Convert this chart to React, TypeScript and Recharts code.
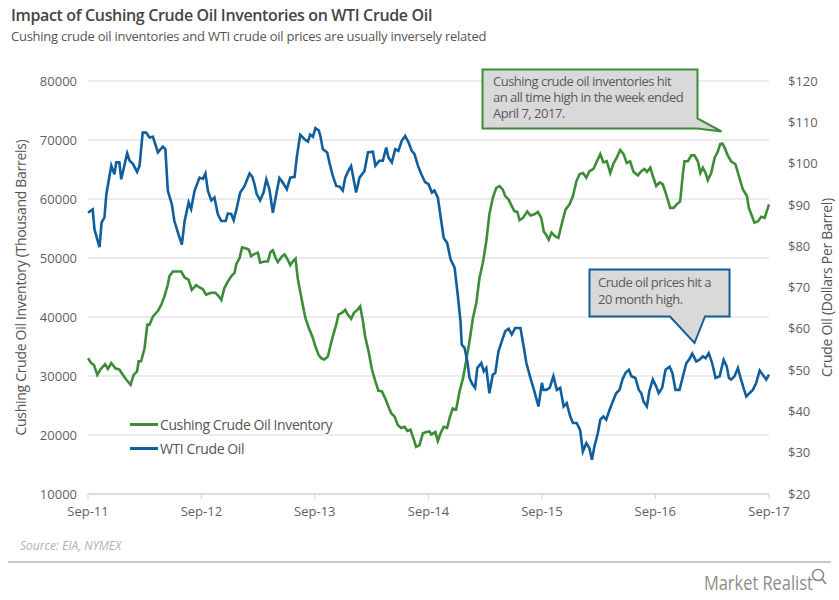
import { LineChart, Line, XAxis, YAxis, CartesianGrid } from 'recharts';

const GREEN = '#3d8c38';
const BLUE = '#105f9c';
const FONT = '"Open Sans", "Noto Sans", sans-serif';

// x positions are days since Sep-11
const xTicks = [0, 365, 730, 1096, 1461, 1826, 2192];
const xTickLabels = ['Sep-11', 'Sep-12', 'Sep-13', 'Sep-14', 'Sep-15', 'Sep-16', 'Sep-17'];
const leftTicks = [10000, 20000, 30000, 40000, 50000, 60000, 70000, 80000];
const rightTicks = [20, 30, 40, 50, 60, 70, 80, 90, 100, 110, 120];

// Cushing crude oil inventory (thousand barrels)
const invDays = [
  0, 10, 19, 30, 40, 55, 64, 75, 88, 101, 112, 123, 137, 147, 158, 163, 171, 182, 191, 198,
  209, 225, 236, 246, 257, 262, 273, 284, 300, 311, 324, 334, 348, 359, 370, 380, 397, 410, 421, 429,
  439, 450, 461, 472, 477, 488, 496, 509, 518, 525, 536, 547, 554, 568, 579, 587, 595, 604, 611, 625,
  633, 643, 651, 659, 668, 675, 683, 691, 700, 711, 722, 732, 743, 751, 761, 772, 781, 788, 799, 806,
  817, 828, 836, 847, 856, 867, 876, 885, 892, 903, 914, 925, 935, 946, 957, 965, 976, 987, 997, 1008,
  1019, 1028, 1038, 1049, 1056, 1067, 1078, 1089, 1099, 1105, 1118, 1126, 1135, 1145, 1156, 1164, 1174, 1185, 1196, 1207,
  1217, 1228, 1239, 1250, 1260, 1271, 1282, 1292, 1303, 1314, 1325, 1335, 1343, 1354, 1364, 1373, 1382, 1389, 1400, 1414,
  1424, 1437, 1448, 1459, 1467, 1474, 1483, 1492, 1503, 1514, 1526, 1537, 1550, 1561, 1572, 1582, 1593, 1604, 1614, 1627,
  1638, 1649, 1659, 1670, 1681, 1692, 1702, 1713, 1724, 1734, 1745, 1756, 1770, 1781, 1791, 1799, 1810, 1818, 1829, 1840,
  1850, 1861, 1874, 1885, 1895, 1906, 1915, 1920, 1931, 1942, 1952, 1963, 1971, 1979, 1988, 1995, 2006, 2017, 2027, 2035,
  2042, 2049, 2060, 2070, 2084, 2095, 2108, 2121, 2127, 2135, 2145, 2156, 2167, 2178, 2192,
];
const invStock = [
  33000, 32200, 31900, 30200, 31100, 32000, 31200, 32200, 31300, 31100, 30200, 29400, 28500, 30200, 30800, 32500, 32500, 34700, 38700, 38700,
  40100, 41000, 42100, 43500, 45500, 46900, 47700, 47700, 47700, 46700, 46300, 44600, 45400, 45000, 44700, 43800, 44100, 44100, 43500, 42900,
  44900, 46000, 46900, 47500, 48900, 50000, 51800, 51600, 51400, 50300, 50700, 50900, 49200, 49400, 49400, 51000, 51300, 50000, 49300, 50300,
  50600, 49700, 48800, 49400, 49900, 46600, 44300, 42100, 39800, 38100, 36700, 35000, 33500, 33000, 32800, 33300, 35300, 36700, 38700, 40400,
  40700, 41200, 40400, 39700, 40700, 41200, 41800, 39300, 36700, 34200, 31100, 29100, 27500, 27400, 26200, 25100, 23700, 23100, 21700, 21200,
  21400, 20700, 20900, 19200, 18000, 18300, 20300, 20500, 20600, 20100, 20500, 19000, 20300, 21400, 21200, 22900, 24500, 24300, 27400, 29600,
  32500, 35900, 39800, 42400, 46600, 49200, 52800, 57400, 60200, 61900, 62200, 61600, 60500, 59900, 58800, 57900, 57800, 56400, 56800, 57900,
  57200, 57400, 57800, 56800, 54500, 54000, 53100, 54300, 53700, 53400, 56000, 58200, 59100, 60500, 63000, 64200, 64400, 63600, 64700, 65100,
  66400, 67600, 66200, 66400, 64400, 66100, 67000, 68300, 67600, 66100, 66400, 64600, 64000, 64700, 65100, 64600, 65300, 63900, 62200, 62800,
  62500, 60800, 58500, 58500, 59100, 59600, 64400, 66400, 66400, 67400, 67400, 66400, 64400, 65300, 64400, 63200, 64400, 67000, 68000, 69300,
  69400, 68700, 67300, 66400, 65900, 63900, 61600, 60500, 58500, 57400, 56000, 56200, 57000, 56800, 59100,
];

// WTI crude oil price ($ per barrel)
const wtiDays = [
  0, 15, 21, 37, 44, 53, 59, 75, 85, 91, 101, 107, 126, 134, 144, 158, 166, 176, 187, 198,
  209, 225, 241, 249, 257, 270, 278, 291, 302, 311, 324, 332, 343, 359, 370, 378, 386, 397, 407, 418,
  429, 443, 450, 461, 469, 479, 490, 504, 520, 529, 536, 543, 554, 565, 574, 584, 595, 606, 616, 627,
  640, 651, 665, 672, 683, 697, 708, 715, 724, 732, 743, 748, 756, 770, 777, 788, 799, 810, 820, 828,
  839, 847, 856, 863, 874, 890, 901, 917, 925, 938, 949, 960, 967, 978, 989, 999, 1010, 1021, 1032, 1042,
  1051, 1062, 1073, 1085, 1096, 1107, 1115, 1126, 1137, 1145, 1156, 1167, 1180, 1190, 1199, 1203, 1212, 1221, 1228, 1237,
  1246, 1253, 1266, 1274, 1282, 1292, 1303, 1311, 1321, 1332, 1343, 1354, 1364, 1375, 1392, 1403, 1411, 1424, 1437, 1450,
  1461, 1466, 1475, 1486, 1498, 1509, 1520, 1531, 1541, 1552, 1561, 1573, 1584, 1593, 1604, 1614, 1622, 1630, 1641, 1649,
  1659, 1668, 1679, 1687, 1700, 1711, 1720, 1730, 1741, 1749, 1762, 1773, 1781, 1788, 1799, 1807, 1818, 1829, 1837, 1848,
  1859, 1872, 1881, 1891, 1904, 1915, 1926, 1936, 1945, 1958, 1968, 1979, 1988, 1998, 2009, 2020, 2033, 2046, 2056, 2063,
  2070, 2081, 2092, 2099, 2110, 2119, 2129, 2140, 2151, 2162, 2172, 2183, 2192,
];
const wtiPrice = [
  88.1, 88.9, 84.0, 79.8, 85.8, 87.0, 92.6, 99.5, 97.4, 100.3, 100.3, 96.2, 102.5, 100.7, 100.0, 98.0, 99.5, 107.5, 107.5, 106.3,
  106.5, 102.7, 104.1, 103.5, 93.4, 90.1, 86.1, 82.9, 80.4, 86.1, 90.6, 89.0, 93.4, 96.6, 96.3, 97.6, 93.4, 91.1, 91.8, 87.7,
  86.1, 86.1, 87.9, 87.8, 86.3, 89.3, 93.0, 94.6, 97.6, 96.8, 95.0, 92.6, 91.1, 93.0, 96.2, 93.8, 88.1, 92.6, 96.5, 95.4,
  93.8, 96.6, 96.8, 101.5, 107.0, 105.9, 105.3, 107.0, 106.5, 108.6, 108.0, 106.7, 103.5, 102.7, 100.3, 97.0, 94.6, 94.4, 93.5, 96.6,
  98.4, 99.4, 95.8, 93.0, 96.6, 98.2, 102.7, 102.9, 99.5, 100.7, 100.7, 103.9, 101.5, 100.3, 103.5, 103.1, 105.5, 106.7, 105.1, 103.1,
  102.3, 99.5, 97.4, 95.5, 95.0, 93.0, 93.5, 91.8, 86.1, 82.0, 80.8, 76.8, 74.8, 68.3, 61.8, 56.2, 55.4, 52.1, 48.1, 46.6,
  45.7, 50.5, 51.7, 49.7, 50.5, 44.4, 48.9, 49.3, 54.5, 57.0, 59.4, 60.0, 58.6, 60.2, 60.2, 55.4, 51.7, 48.1, 44.8, 41.2,
  46.9, 45.2, 45.2, 45.7, 48.5, 45.2, 45.7, 41.2, 42.0, 38.8, 37.2, 37.2, 35.5, 30.3, 32.3, 31.1, 28.3, 31.5, 34.7, 38.0,
  38.8, 38.0, 40.4, 42.0, 44.4, 45.2, 47.7, 49.3, 50.1, 48.5, 48.1, 45.2, 44.4, 42.4, 41.2, 45.0, 47.7, 46.0, 44.4, 45.7,
  50.1, 50.8, 49.3, 45.2, 45.2, 48.5, 51.7, 52.7, 54.0, 52.1, 52.5, 53.3, 52.9, 54.1, 51.7, 48.1, 48.5, 52.5, 50.9, 48.1,
  47.7, 48.5, 50.5, 48.5, 45.7, 43.6, 44.4, 45.2, 46.9, 49.9, 48.9, 47.7, 48.9,
];

const invData = invDays.map((d, i) => ({ d, inv: invStock[i] }));
const wtiData = wtiDays.map((d, i) => ({ d, wti: wtiPrice[i] }));

const tickStyle = { fontSize: 13, fill: '#5f5f5f', fontFamily: FONT };

function Legend() {
  const rows = [
    { label: 'Cushing Crude Oil Inventory', color: GREEN, top: 415 },
    { label: 'WTI Crude Oil', color: BLUE, top: 439 },
  ];
  return (
    <>
      {rows.map((r) => (
        <div key={r.label} style={{ position: 'absolute', left: 130, top: r.top, display: 'flex', alignItems: 'center', fontFamily: FONT, fontSize: 14, color: '#555', letterSpacing: -0.4 }}>
          <span style={{ width: 28, height: 3, background: r.color, display: 'inline-block', marginRight: 2 }} />
          <span>{r.label}</span>
        </div>
      ))}
    </>
  );
}

function Callouts() {
  const txt = { fontFamily: FONT, fontSize: 13, fill: '#5a5a5a', letterSpacing: -0.5 };
  return (
    <svg width={839} height={600} style={{ position: 'absolute', left: 0, top: 0, pointerEvents: 'none' }}>
      <path d="M482.5,69.5 H697.5 V118.5 L721.5,131.5 L697.5,128.5 H482.5 Z" fill="#d9d9d9" stroke={GREEN} strokeWidth={2} />
      <text x={493} y={86} {...txt}>Cushing crude oil inventories hit</text>
      <text x={493} y={102} {...txt}>an all time high in the week ended</text>
      <text x={493} y={118} {...txt}>April 7, 2017.</text>
      <path d="M589.5,269.5 H729.5 V316.5 H705 L694.5,343 L670,316.5 H589.5 Z" fill="#d9d9d9" stroke={BLUE} strokeWidth={2} />
      <text x={598} y={287} {...txt}>Crude oil prices hit a</text>
      <text x={598} y={304} {...txt}>20 month high.</text>
    </svg>
  );
}

export default function App() {
  return (
    <div style={{ position: 'absolute', left: 0, top: 0, width: 839, height: 600, background: '#fff', fontFamily: FONT }}>
      <div style={{ position: 'absolute', left: 11, top: 4, fontSize: 16, fontWeight: 600, color: '#454545', letterSpacing: -0.35 }}>
        Impact of Cushing Crude Oil Inventories on WTI Crude Oil
      </div>
      <div style={{ position: 'absolute', left: 11, top: 27, fontSize: 13, color: '#555', letterSpacing: -0.25 }}>
        Cushing crude oil inventories and WTI crude oil prices are usually inversely related
      </div>
      <div style={{ position: 'absolute', left: 0, top: 0 }}>
        <LineChart width={839} height={600} margin={{ top: 81, right: 0, bottom: 0, left: 0 }}>
          <CartesianGrid yAxisId="left" vertical={false} stroke="#e4e4e4" strokeWidth={1.5} />
          <XAxis
            dataKey="d"
            type="number"
            domain={[0, 2192]}
            ticks={xTicks}
            tickFormatter={(v: number) => xTickLabels[xTicks.indexOf(v)]}
            height={106}
            tick={tickStyle}
            tickSize={5}
            tickMargin={8}
            stroke="#cfcfcf"
            allowDuplicatedCategory={false}
          />
          <YAxis
            yAxisId="left"
            orientation="left"
            width={88}
            domain={[10000, 80000]}
            ticks={leftTicks}
            tick={tickStyle}
            axisLine={false}
            tickLine={false}
            tickSize={6}
            tickMargin={5}
            label={{ value: 'Cushing Crude Oil Inventory (Thousand Barrels)', angle: -90, position: 'insideLeft', offset: 21, style: { fontSize: 14, fill: '#555', fontFamily: FONT, textAnchor: 'middle', letterSpacing: -0.3 } }}
          />
          <YAxis
            yAxisId="right"
            orientation="right"
            width={70}
            domain={[20, 120]}
            ticks={rightTicks}
            tickFormatter={(v: number) => `$${v}`}
            tick={tickStyle}
            axisLine={false}
            tickLine={false}
            tickSize={6}
            tickMargin={13}
            label={{ value: 'Crude Oil (Dollars Per Barrel)', angle: -90, position: 'insideRight', offset: 12, style: { fontSize: 14, fill: '#555', fontFamily: FONT, textAnchor: 'middle', letterSpacing: -0.3 } }}
          />
          <Line yAxisId="left" data={invData} dataKey="inv" type="linear" stroke={GREEN} strokeWidth={2.6} dot={false} isAnimationActive={false} />
          <Line yAxisId="right" data={wtiData} dataKey="wti" type="linear" stroke={BLUE} strokeWidth={2.6} dot={false} isAnimationActive={false} />
        </LineChart>
      </div>
      <Legend />
      <Callouts />
      <div style={{ position: 'absolute', left: 20, top: 537, fontSize: 12, fontStyle: 'italic', color: '#b0b0b0' }}>Source: EIA, NYMEX</div>
      <div style={{ position: 'absolute', left: 8, top: 561, width: 823, height: 2, background: '#c8c8c8' }} />
      <div style={{ position: 'absolute', left: 704, top: 569, fontSize: 20, color: '#8c8c8c', transform: 'scaleX(0.82)', transformOrigin: 'left center', whiteSpace: 'nowrap' }}>Market Realist</div>
      <svg width={20} height={22} style={{ position: 'absolute', left: 808, top: 568 }}>
        <circle cx={10} cy={7} r={5.5} fill="none" stroke="#8c8c8c" strokeWidth={1.6} />
        <line x1={14} y1={11} x2={18} y2={16} stroke="#8c8c8c" strokeWidth={2} />
      </svg>
    </div>
  );
}
